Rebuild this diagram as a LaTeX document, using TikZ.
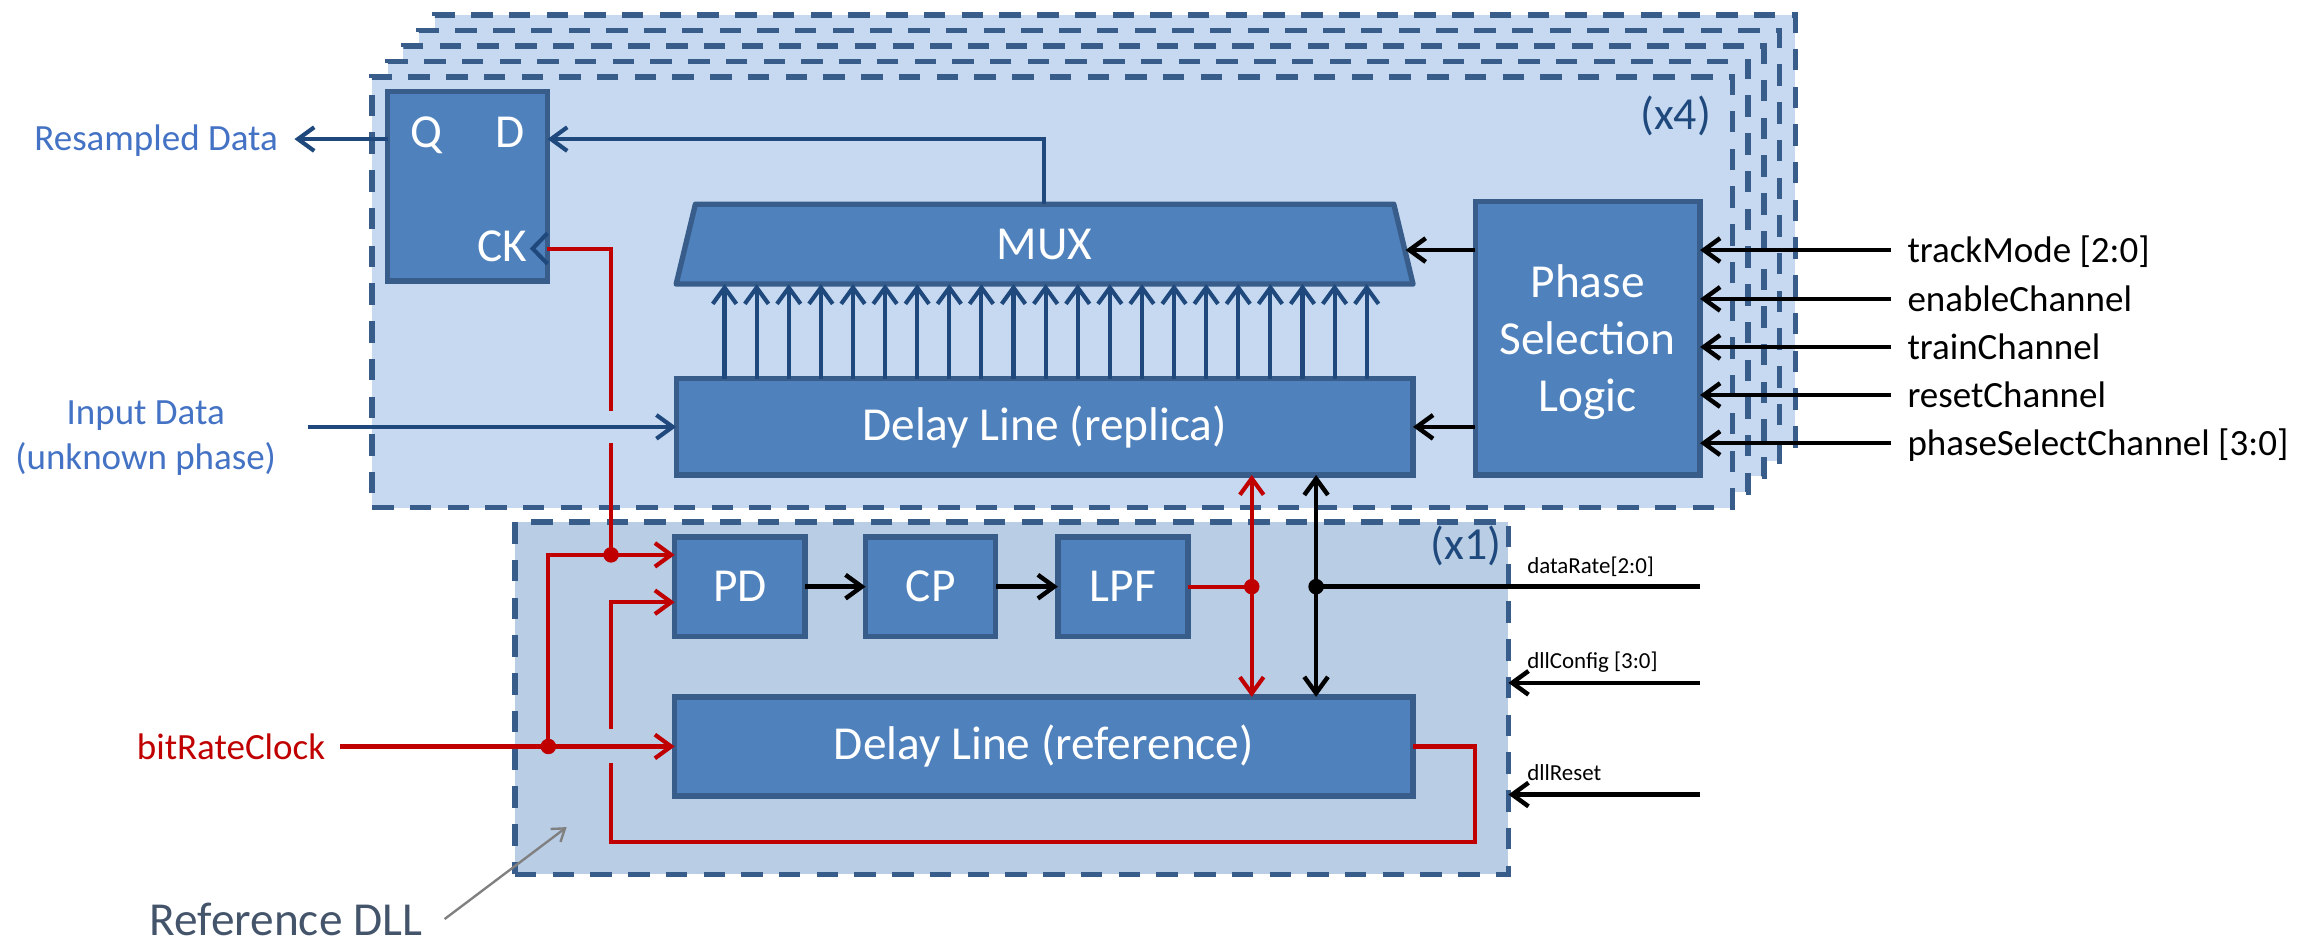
\documentclass[tikz,border=0pt]{standalone}
\usepackage{fontspec}
\setmainfont{Carlito}
\usetikzlibrary{arrows.meta,calc}
\definecolor{panelfill}{HTML}{C6D9F1}
\definecolor{panelfillb}{HTML}{B9CDE5}
\definecolor{panelline}{HTML}{385D8A}
\definecolor{boxfill}{HTML}{4F81BD}
\definecolor{boxline}{HTML}{385D8A}
\definecolor{navy}{HTML}{1F497D}
\definecolor{sigred}{HTML}{C00000}
\definecolor{labblue}{HTML}{4472C4}
\definecolor{refgray}{HTML}{44546A}
\definecolor{ptrgray}{HTML}{808080}
\begin{document}
\begin{tikzpicture}[x=1pt,y=-1pt,
  panelbg/.style={draw=panelline, line width=3.8pt, dash pattern=on 14.5pt off 11pt, rectangle, outer sep=0pt, inner sep=0pt},
  blockbox/.style={draw=boxline, fill=boxfill, line width=3.6pt, rectangle, outer sep=0pt, inner sep=0pt, text=white, font=\fontsize{32}{38.5}\selectfont},
  tipv/.style={-{Straight Barb[length=11pt,width=16pt]}},
  tipvv/.style={{Straight Barb[length=11pt,width=16pt]}-{Straight Barb[length=11pt,width=16pt]}},
  navyline/.style={draw=navy, line width=2.8pt},
  redline/.style={draw=sigred, line width=2.8pt},
  blkline/.style={draw=black, line width=3pt},
  dotmark/.style={circle, inner sep=0pt, minimum size=10.5pt},
  biglabel/.style={font=\fontsize{25}{30}\selectfont, inner sep=0pt},
  smalllabel/.style={font=\fontsize{15.5}{18}\selectfont, inner sep=0pt},
  boxtext/.style={text=white, font=\fontsize{32}{38.5}\selectfont, inner sep=0pt},
]
\useasboundingbox (0,0) rectangle (1568,637);

% stacked channel panels
\foreach \i in {4,3,2,1} {
  \node[panelbg, fill=panelfill, minimum width=919.5pt, minimum height=291pt] (chan\i) at ({711.25+10.6*\i},{197.5-10.5*\i}) {};
}
\node[panelbg, fill=panelfill, minimum width=919.5pt, minimum height=291pt] (chan0) at (711.25,197.5) {};
\node[font=\fontsize{31}{36}\selectfont, text=navy, inner sep=0pt] (x4) at (1132.5,78.5) {(x4)};

% reference DLL panel
\node[panelbg, fill=panelfillb, minimum width=671.5pt, minimum height=238pt] (dll) at (683.75,472) {};
\node[font=\fontsize{31}{36}\selectfont, text=navy, inner sep=0pt] (x1) at (991,369) {(x1)};

% flip-flop
\node[blockbox, minimum width=108pt, minimum height=128pt] (ff) at (316,126) {};
\node[boxtext, anchor=base] (qlab) at (288,100) {Q};
\node[boxtext, anchor=base] (dlab) at (344.6,100) {D};
\node[boxtext, anchor=base] (cklab) at (339.7,176.5) {CK};
\draw[navyline] (370,157.7) -- (360,168) -- (370,178.3);

% MUX
\draw[draw=boxline, fill=boxfill, line width=3.6pt, line join=round] (457,192) -- (470,138) -- (942,138) -- (955,192) -- cycle;
\node[boxtext] (mux) at (706,165) {MUX};

% blocks
\node[blockbox, minimum width=498pt, minimum height=65pt] (replica) at (706,288.5) {Delay Line (replica)};
\node[blockbox, minimum width=152pt, minimum height=185pt] (psl) at (1073,228.5) {};
\node[boxtext, align=center] (psltext) at (1073,231.5) {Phase\\Selection\\Logic};
\node[blockbox, minimum width=88pt, minimum height=67pt] (pd) at (500,396.5) {PD};
\node[blockbox, minimum width=88pt, minimum height=67pt] (cp) at (629,396.5) {CP};
\node[blockbox, minimum width=88pt, minimum height=67pt] (lpf) at (759,396.5) {LPF};
\node[blockbox, minimum width=499pt, minimum height=67pt] (ref) at (705.5,504.5) {Delay Line (reference)};

% coordinates
\coordinate (dy) at (0,94);
\coordinate (muxtop) at (705.8,138);
\coordinate (resend) at (199,94);
\coordinate (inpstart) at (208,288.5);
\coordinate (muxright) at (950,169);
\coordinate (rdot) at (846,396.5);
\coordinate (kdot) at (889.5,396.5);
\coordinate (drsrc) at (1149,396.5);
\coordinate (cfgsrc) at (1149,461.5);
\coordinate (rstsrc) at (1149,537);
\coordinate (ckport) at (370,168);
\coordinate (ckx) at (413,168);
\coordinate (gapa) at (413,277.5);
\coordinate (gapb) at (413,299.5);
\coordinate (pdin1) at (413,375);
\coordinate (clkbranch) at (370.6,504.5);
\coordinate (clkin) at (230,504.5);
\coordinate (fbcorner) at (997,569);
\coordinate (fbleft) at (413,569);
\coordinate (gapc) at (413,516);
\coordinate (gapd) at (413,493);
\coordinate (pdin2) at (413,407);

% navy data lines
\draw[navyline, tipv] (muxtop) |- (ff.east |- dy);
\draw[navyline, tipv] (ff.west |- dy) -- (resend);
\draw[navyline, tipv] (inpstart) -- (replica.west);
\foreach \i in {0,...,20} {
  \draw[navyline, tipv] ($(replica.north west)+({32.7+21.7*\i},0)$) -- ++(0,-64);
}

% control (black)
\draw[blkline, tipv] (psl.west |- muxright) -- (muxright);
\draw[blkline, tipv] (psl.west |- replica.east) -- (replica.east);
\coordinate (s1) at (1278,169);
\coordinate (s2) at (1278,202);
\coordinate (s3) at (1278,234.5);
\coordinate (s4) at (1278,267);
\coordinate (s5) at (1278,299.5);
\foreach \k in {1,...,5} { \draw[blkline, tipv] (s\k) -- (psl.east |- s\k); }
\node[biglabel, anchor=base west] (l1) at (1289,177.3) {trackMode [2:0]};
\node[biglabel, anchor=base west] (l2) at (1289,210.3) {enableChannel};
\node[biglabel, anchor=base west] (l3) at (1289,242.8) {trainChannel};
\node[biglabel, anchor=base west] (l4) at (1289,275.3) {resetChannel};
\node[biglabel, anchor=base west] (l5) at (1289,307.8) {phaseSelectChannel [3:0]};

\draw[blkline, tipv] (pd) -- (cp);
\draw[blkline, tipv] (cp) -- (lpf);
\draw[blkline] (drsrc) -- (kdot);
\draw[blkline, tipvv] (replica.south -| kdot) -- (ref.north -| kdot);
\node[dotmark, fill=black] (kd) at (kdot) {};
\draw[blkline, tipv] (cfgsrc) -- (dll.east |- cfgsrc);
\draw[blkline, tipv] (rstsrc) -- (dll.east |- rstsrc);
\node[smalllabel, anchor=base west] (drlab) at (1032,387.5) {dataRate[2:0]};
\node[smalllabel, anchor=base west] (cfglab) at (1032,452) {dllConfig [3:0]};
\node[smalllabel, anchor=base west] (rstlab) at (1032,527.5) {dllReset};

% clocks (red)
\draw[redline] (lpf.east) -- (rdot);
\draw[redline, tipvv] (replica.south -| rdot) -- (ref.north -| rdot);
\node[dotmark, fill=sigred] (rd) at (rdot) {};
\draw[redline] (ckport) -- (ckx) -- (gapa);
\draw[redline] (gapb) -- (pdin1);
\draw[redline, tipv] (clkbranch) |- (pd.west |- pdin1);
\draw[redline, tipv] (clkin) -- (ref.west |- clkin);
\node[dotmark, fill=sigred] (d1) at (pdin1) {};
\node[dotmark, fill=sigred] (d2) at (clkbranch) {};
\draw[redline] (ref.east) -| (fbcorner) -- (fbleft) -- (gapc);
\draw[redline, tipv] (gapd) -- (pdin2) -- (pd.west |- pdin2);

% external labels
\node[biglabel, text=labblue, anchor=base east] (resampled) at (188,102) {Resampled Data};
\node[biglabel, text=labblue, align=center] (inlab) at (98.5,296) {Input Data\\(unknown phase)};
\node[biglabel, text=sigred, anchor=base east] (clklab) at (220,513.3) {bitRateClock};
\node[font=\fontsize{32}{38}\selectfont, text=refgray, anchor=base west, inner sep=0pt] (refdll) at (101,632) {Reference DLL};
\draw[ptrgray, line width=1.6pt, -{Straight Barb[length=8pt,width=11pt]}] ([xshift=15pt]refdll.east) -- (383,559);
\end{tikzpicture}
\end{document}
